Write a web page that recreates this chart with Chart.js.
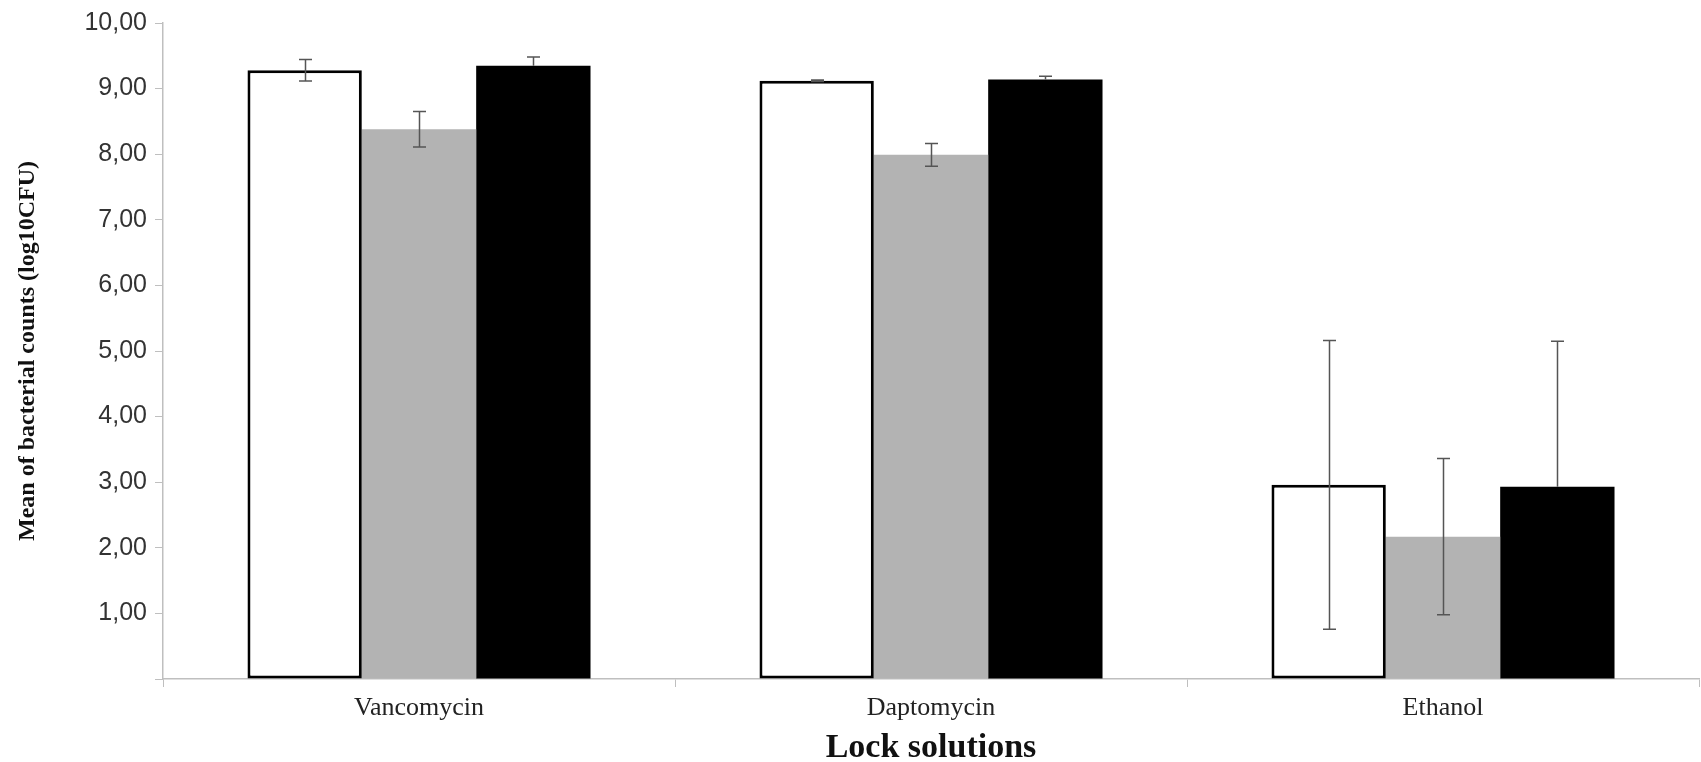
<!DOCTYPE html>
<html>
<head>
<meta charset="utf-8">
<script src="https://cdn.jsdelivr.net/npm/chart.js@4"></script>
<style>
  html, body { margin: 0; padding: 0; background: #fff; }
  #wrap { width: 1701px; height: 762px; }
</style>
</head>
<body>
<div id="wrap"><canvas id="lockChart"></canvas></div>
<script>
const categories = ["Vancomycin", "Daptomycin", "Ethanol"];
const seriesA = [9.28, 9.12, 2.96];
const seriesB = [8.38, 7.99, 2.17];
const seriesC = [9.35, 9.14, 2.93];
const errorsA = [0.165, 0.01, 2.2];
const errorsB = [0.27, 0.175, 1.19];
const errorsC = [0.13, 0.05, 2.22];
const yTicks = [0, 1, 2, 3, 4, 5, 6, 7, 8, 9, 10];

// black series only shows the upper whisker
const errorSets = [errorsA, errorsB, errorsC];
const errorPlusOnly = [false, false, true];

const errorBars = {
  id: "errorBars",
  afterDatasetsDraw(chart) {
    const ctx = chart.ctx;
    const y = chart.scales.y;
    ctx.save();
    ctx.strokeStyle = "#555";
    ctx.lineWidth = 1.5;
    chart.data.datasets.forEach((ds, di) => {
      const meta = chart.getDatasetMeta(di);
      meta.data.forEach((bar, i) => {
        const v = ds.data[i];
        const e = errorSets[di][i];
        const top = y.getPixelForValue(v + e);
        const bot = errorPlusOnly[di] ? y.getPixelForValue(v) : y.getPixelForValue(v - e);
        const x = Math.round(bar.x) + 0.5;
        ctx.beginPath();
        ctx.moveTo(x, top);
        ctx.lineTo(x, bot);
        ctx.moveTo(x - 6.5, top);
        ctx.lineTo(x + 6.5, top);
        if (!errorPlusOnly[di]) {
          ctx.moveTo(x - 6.5, bot);
          ctx.lineTo(x + 6.5, bot);
        }
        ctx.stroke();
      });
    });
    ctx.restore();
  },
};

function initChart() {
  const ctx = document.getElementById("lockChart");
  new Chart(ctx, {
    type: "bar",
    plugins: [errorBars],
    data: {
      labels: categories,
      datasets: [
        {
          label: "A",
          data: seriesA,
          backgroundColor: "#ffffff",
          borderColor: "#000000",
          borderWidth: 3,
          borderSkipped: false,
        },
        {
          label: "B",
          data: seriesB,
          backgroundColor: "#b3b3b3",
          borderWidth: 0,
        },
        {
          label: "C",
          data: seriesC,
          backgroundColor: "#000000",
          borderWidth: 0,
        },
      ],
    },
    options: {
      responsive: true,
      maintainAspectRatio: false,
      animation: false,
      layout: {
        padding: { top: 21, right: 2, left: 0, bottom: 0 },
      },
      plugins: {
        legend: { display: false },
        tooltip: { enabled: false },
      },
      datasets: {
        bar: { categoryPercentage: 0.67, barPercentage: 1.0 },
      },
      scales: {
        x: {
          grid: {
            display: true,
            drawOnChartArea: false,
            color: "#bfbfbf",
            tickLength: 8,
            offset: true,
          },
          border: { color: "#bfbfbf", width: 1.5 },
          ticks: {
            color: "#222",
            padding: 6,
            font: { family: "'Liberation Serif', serif", size: 26 },
          },
          title: {
            display: true,
            text: "Lock solutions",
            color: "#111",
            padding: { top: 0, bottom: -3 },
            font: { family: "'Liberation Serif', serif", size: 34, weight: "bold", lineHeight: 1 },
          },
          afterFit(scale) {
            scale.height = 83;
          },
        },
        y: {
          min: 0,
          max: 10,
          afterBuildTicks(scale) {
            scale.ticks = yTicks.map((v) => ({ value: v }));
          },
          grid: {
            display: true,
            drawOnChartArea: false,
            color: "#bfbfbf",
            tickLength: 8,
          },
          border: { color: "#bfbfbf", width: 1.5 },
          ticks: {
            color: "#333",
            padding: 8,
            font: { family: "'Liberation Sans', Arial, sans-serif", size: 25 },
            callback: (v) => (v === 0 ? "" : v.toFixed(2).replace(".", ",")),
          },
          title: {
            display: true,
            text: "Mean of bacterial counts (log10CFU)",
            color: "#111",
            padding: { top: 13, bottom: 4 },
            font: { family: "'Liberation Serif', serif", size: 24, weight: "bold" },
          },
          afterFit(scale) {
            scale.width = 163;
          },
        },
      },
    },
  });
}

initChart();
</script>
</body>
</html>
